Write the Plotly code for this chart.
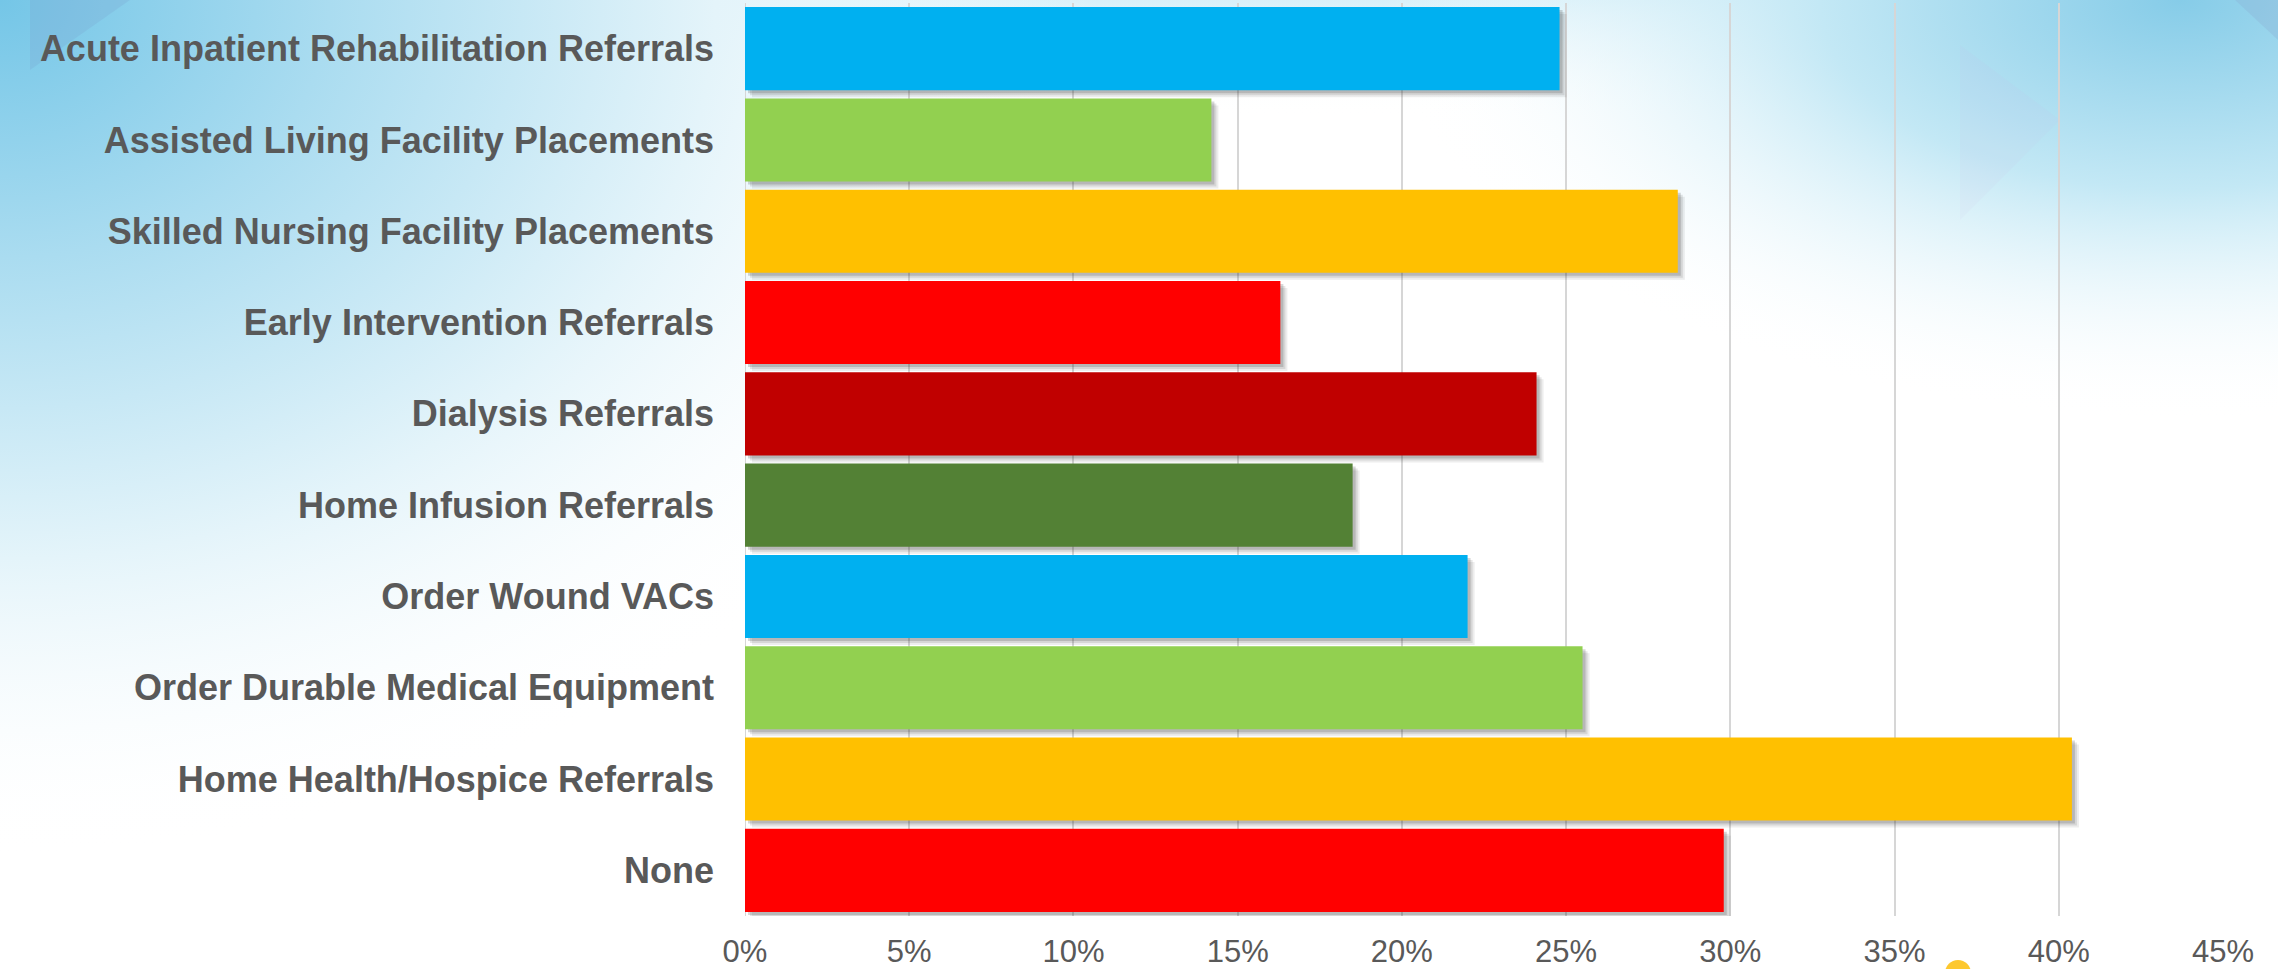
import base64
import plotly.graph_objects as go

categories = [
    "Acute Inpatient Rehabilitation Referrals",
    "Assisted Living Facility Placements",
    "Skilled Nursing Facility Placements",
    "Early Intervention Referrals",
    "Dialysis Referrals",
    "Home Infusion Referrals",
    "Order Wound VACs",
    "Order Durable Medical Equipment",
    "Home Health/Hospice Referrals",
    "None",
]
values = [0.248, 0.142, 0.284, 0.163, 0.241, 0.185, 0.220, 0.255, 0.404, 0.298]
bar_colors = ["#00B0F0", "#92D050", "#FFC000", "#FF0000", "#C00000",
              "#538135", "#00B0F0", "#92D050", "#FFC000", "#FF0000"]
tick_vals = [0, 0.05, 0.10, 0.15, 0.20, 0.25, 0.30, 0.35, 0.40, 0.45]
tick_text = ["0%", "5%", "10%", "15%", "20%", "25%", "30%", "35%", "40%", "45%"]

W, H = 2278, 969
ML, MR, MT, MB = 745, 55, 3, 53
PW, PH = W - ML - MR, H - MT - MB

BAR_W = 0.91
label_color = "#595959"
FONT = "Liberation Sans, Arial, sans-serif"

# background artwork (gradient) as inline SVG
svg = f'''<svg xmlns="http://www.w3.org/2000/svg" width="{W}" height="{H}" viewBox="0 0 {W} {H}" preserveAspectRatio="none">
<defs>
<radialGradient id="g1" cx="0" cy="0" r="1" gradientUnits="userSpaceOnUse" gradientTransform="translate(0 0) scale(1100 860)">
<stop offset="0" stop-color="#74c6e7"/>
<stop offset="0.3" stop-color="#aadcf0"/>
<stop offset="0.65" stop-color="#e4f4fa"/>
<stop offset="1" stop-color="#ffffff" stop-opacity="0"/>
</radialGradient>
<radialGradient id="g2" cx="0" cy="0" r="1" gradientUnits="userSpaceOnUse" gradientTransform="translate(2180 0) scale(800 420)">
<stop offset="0" stop-color="#86cce8"/>
<stop offset="0.45" stop-color="#c3e8f5"/>
<stop offset="1" stop-color="#ffffff" stop-opacity="0"/>
</radialGradient>
<linearGradient id="g3" x1="0" y1="0" x2="0" y2="1">
<stop offset="0" stop-color="#d8f0f9"/>
<stop offset="0.12" stop-color="#ffffff" stop-opacity="0"/>
</linearGradient>
</defs>
<rect width="{W}" height="{H}" fill="#ffffff"/>
<rect width="{W}" height="{H}" fill="url(#g3)"/>
<rect width="{W}" height="{H}" fill="url(#g1)"/>
<rect width="{W}" height="{H}" fill="url(#g2)"/>
<polygon points="30,0 130,0 30,70" fill="#7aa6cf" fill-opacity="0.28"/>
<polygon points="1960,45 2060,120 1960,220" fill="#c9b8e0" fill-opacity="0.08"/>
<polygon points="2235,0 2278,0 2278,40" fill="#8aa8d0" fill-opacity="0.28"/>
</svg>'''
bg_src = "data:image/svg+xml;base64," + base64.b64encode(svg.encode()).decode()

px_x = 0.45 / PW                      # data units per pixel along x
px_y = 1.0 / (PH / len(categories))   # category units per pixel along y

fig = go.Figure()
# soft drop shadows
for dpx, alpha in [(7, 0.09), (5, 0.13), (3, 0.20)]:
    fig.add_trace(go.Bar(
        y=categories, x=values, base=dpx * px_x, orientation="h",
        width=BAR_W, offset=-BAR_W / 2 + dpx * px_y,
        marker=dict(color=f"rgba(60,60,60,{alpha})", line=dict(width=0)),
        hoverinfo="skip", showlegend=False,
    ))
fig.add_trace(go.Bar(
    y=categories, x=values, orientation="h",
    width=BAR_W, offset=-BAR_W / 2,
    marker=dict(color=bar_colors, line=dict(width=0)),
    showlegend=False,
))

fig.update_layout(
    width=W, height=H,
    margin=dict(l=ML, r=MR, t=MT, b=MB, pad=0, autoexpand=False),
    barmode="overlay",
    paper_bgcolor="#ffffff",
    plot_bgcolor="rgba(0,0,0,0)",
    font=dict(family=FONT, color=label_color),
    images=[dict(
        source=bg_src, xref="paper", yref="paper",
        x=-ML / PW, y=1 + MT / PH, sizex=W / PW, sizey=H / PH,
        xanchor="left", yanchor="top", sizing="stretch", layer="below",
    )],
    shapes=[dict(
        type="circle", xref="paper", yref="paper",
        x0=(1958 - 13 - ML) / PW, x1=(1958 + 13 - ML) / PW,
        y0=(PH + MT - 986) / PH, y1=(PH + MT - 960) / PH,
        fillcolor="#FDC82F", line=dict(width=0), layer="above",
    )],
)
fig.update_xaxes(
    range=[0, 0.45], tickvals=tick_vals, ticktext=tick_text,
    showgrid=True, gridcolor="#d6d6d6", gridwidth=2,
    zeroline=False, showline=False, ticks="", automargin=False,
    tickfont=dict(size=31, color=label_color, family=FONT),
    ticklabelstandoff=14,
)
fig.update_yaxes(
    range=[len(categories) - 0.5, -0.5],
    categoryorder="array", categoryarray=categories,
    showgrid=False, zeroline=False, showline=False, ticks="", automargin=False,
    tickfont=dict(size=36, color=label_color, family=FONT, weight="bold"),
    ticklabelstandoff=30,
)
fig.add_vline(x=0, line=dict(color="#d6d6d6", width=2), layer="below")

fig.write_html("out.html", config={"displayModeBar": False},
               post_script="document.body.style.margin='0';")
